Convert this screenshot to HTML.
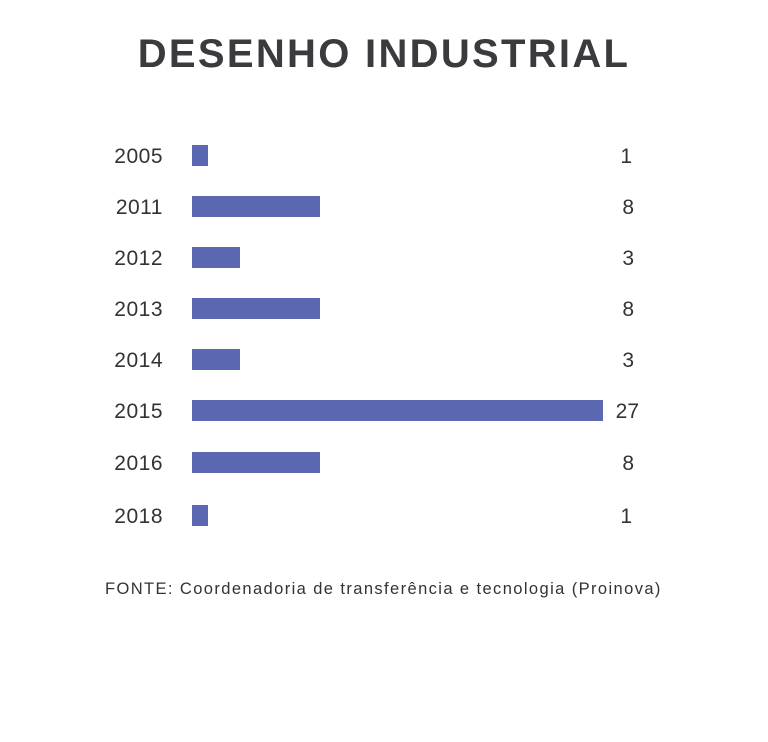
<!DOCTYPE html><html><head><style>
body{margin:0;width:768px;height:742px;background:#fff;font-family:"Liberation Sans",sans-serif;color:#333;position:relative;overflow:hidden}
.t{position:absolute;left:0;width:768px;top:32px;text-align:center;font-size:40px;font-weight:bold;color:#3a3a3f;letter-spacing:2.3px}
.y{position:absolute;width:67px;left:96px;text-align:right;font-size:21px;color:#333;letter-spacing:0.5px}
.v{position:absolute;left:560px;width:80px;text-align:right;font-size:21px;color:#333}
.b{position:absolute;left:192px;height:21px;background:#5b67b0}
.f{position:absolute;left:105px;top:580px;font-size:16.5px;color:#333;letter-spacing:1.4px}
</style></head><body>
<div class="t">DESENHO INDUSTRIAL</div>
<div class="y" style="top:145px">2005</div><div class="b" style="top:145px;width:16px"></div><div class="v" style="top:145px;width:72px">1</div>
<div class="y" style="top:196px">2011</div><div class="b" style="top:196px;width:128px"></div><div class="v" style="top:196px;width:74px">8</div>
<div class="y" style="top:247px">2012</div><div class="b" style="top:247px;width:48px"></div><div class="v" style="top:247px;width:74px">3</div>
<div class="y" style="top:298px">2013</div><div class="b" style="top:298px;width:128px"></div><div class="v" style="top:298px;width:74px">8</div>
<div class="y" style="top:349px">2014</div><div class="b" style="top:349px;width:48px"></div><div class="v" style="top:349px;width:74px">3</div>
<div class="y" style="top:400px">2015</div><div class="b" style="top:400px;width:411px"></div><div class="v" style="top:400px;width:79px">27</div>
<div class="y" style="top:452px">2016</div><div class="b" style="top:452px;width:128px"></div><div class="v" style="top:452px;width:74px">8</div>
<div class="y" style="top:505px">2018</div><div class="b" style="top:505px;width:16px"></div><div class="v" style="top:505px;width:72px">1</div>
<div class="f">FONTE: Coordenadoria de transferência e tecnologia (Proinova)</div>
</body></html>
